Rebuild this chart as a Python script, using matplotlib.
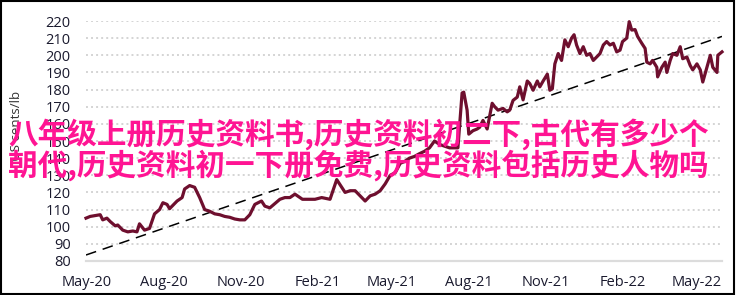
import matplotlib
matplotlib.use("Agg")
import matplotlib.pyplot as plt
import matplotlib.dates as mdates
from matplotlib.patches import Rectangle
import pandas as pd

start_date = "2020-05-01"
day_offsets = [-1, 4, 10, 16, 19, 24, 28, 34, 37, 43, 49, 55, 60, 63, 69, 75, 81, 87, 91, 96,
               99, 108, 114, 117, 123, 129, 135, 141, 147, 153, 159, 165, 171, 177, 183, 189, 195, 201, 209, 213,
               219, 231, 237, 243, 249, 258, 267, 273, 281, 291, 299, 309, 315, 321, 327, 333, 339, 345, 351, 357,
               363, 369, 375, 380, 386, 392, 398, 404, 410, 416, 422, 428, 434, 440, 444, 449, 451, 455, 457, 462,
               467, 470, 474, 479, 485, 488, 492, 498, 503, 506, 510, 515, 518, 522, 527, 530, 534, 539, 542, 546,
               551, 554, 557, 560, 564, 568, 572, 576, 580, 583, 586, 590, 594, 598, 602, 606, 610, 614, 618, 622,
               626, 630, 634, 638, 641, 646, 649, 652, 656, 659, 664, 668, 670, 674, 677, 682, 683, 688, 692, 694,
               698, 701, 706, 710, 713, 718, 722, 725, 730, 734, 737, 742, 746, 749, 754, 755, 760]
prices = [105, 106, 106.5, 107, 104, 105, 103, 100.5, 101, 98, 97, 97.5, 97, 101.7, 98, 99, 107.5, 110, 114, 113,
          110.5, 115, 117, 122, 124, 123, 117, 110, 109, 107.5, 107, 106, 105.5, 104.5, 104, 104, 107, 113, 115, 112,
          111, 116, 117, 117, 119, 116, 116, 116, 117, 116, 127.5, 120, 121, 121, 118, 115, 118, 119, 121, 125,
          130, 131.5, 137, 138, 140, 141, 142.6, 144, 146, 150, 148, 147, 146, 146, 146, 178, 178.5, 168, 154, 156,
          157, 158, 162, 157, 172, 170, 168, 169, 167, 168, 173.7, 175.6, 181.6, 174, 185, 183.5, 179.6, 185, 181.6, 185,
          189, 179.6, 180.5, 195, 201, 197, 209, 205, 210, 212, 206, 201, 205, 200, 201, 197, 199, 201, 206, 208,
          206, 207, 202, 203, 208, 210, 219.6, 214.7, 215, 211, 207, 204, 196, 195, 197, 193, 187.4, 193, 196, 190,
          197, 201, 200, 205, 198, 199, 194, 191.5, 195, 191.5, 184.4, 193, 200, 193, 190, 200, 202]
trend_values = [83.5, 211]
y_ticks = list(range(80, 230, 10))
x_tick_dates = ["2020-05-01", "2020-08-01", "2020-11-01", "2021-02-01", "2021-05-01",
                "2021-08-01", "2021-11-01", "2022-02-01", "2022-05-01"]
y_label = "US cents/lb"
overlay_lines = ["八年级上册历史资料书,历史资料初二下,古代有多少个",
                 "朝代,历史资料初一下册免费,历史资料包括历史人物吗"]

dates = pd.Timestamp(start_date) + pd.to_timedelta(day_offsets, unit="D")

W, H = 739, 295
fig = plt.figure(figsize=(W / 100, H / 100), dpi=100)
ax = fig.add_axes([86 / W, 1 - 261 / H, (722 - 86) / W, (261 - 21) / H])

ax.plot(dates, prices, color="#6E0F2E", lw=2.3, solid_joinstyle="round", zorder=3, clip_on=False)
ax.plot([dates[0], dates[-1]], trend_values, color="black", lw=1.1, dashes=(7, 4.5), zorder=2)

ax.set_ylim(80, 220)
ax.set_xlim(pd.Timestamp("2020-04-30"), pd.Timestamp("2022-05-31"))
ax.set_yticks(y_ticks)
ax.set_xticks(pd.to_datetime(x_tick_dates))
ax.xaxis.set_major_formatter(mdates.DateFormatter("%b-%y"))
ax.yaxis.grid(True, color="#d4d4d4", lw=1.4, linestyle=(0, (1, 1.6)))
ax.set_axisbelow(True)
for s in ["left", "right", "top"]:
    ax.spines[s].set_visible(False)
ax.spines["bottom"].set_color("#dcdcdc")
ax.spines["bottom"].set_linewidth(1.6)
ax.tick_params(axis="both", length=0, labelsize=10.5, colors="#1a1a2e")
ax.tick_params(axis="y", pad=11)
ax.tick_params(axis="x", pad=10)
for lab in ax.get_xticklabels() + ax.get_yticklabels():
    lab.set_fontfamily("Open Sans")

fig.text(17 / W, 1 - 126 / H, y_label, rotation=90, ha="center", va="center",
         fontsize=9.5, color="#333333", family="Open Sans")

for i, line in enumerate(overlay_lines):
    fig.text(8 / W, 1 - (134 + 31 * i) / H, line, ha="left", va="center",
             fontsize=21.3, color="#FF1493", fontweight="bold",
             family=["Noto Sans CJK SC", "DejaVu Sans"], zorder=10)

fig.patches.append(Rectangle((0.5 / W, 1 / H), 733 / W, (H - 1.5) / H, transform=fig.transFigure,
                             fill=False, edgecolor="black", lw=1.5, zorder=20))

fig.savefig("out.png", dpi=100)
